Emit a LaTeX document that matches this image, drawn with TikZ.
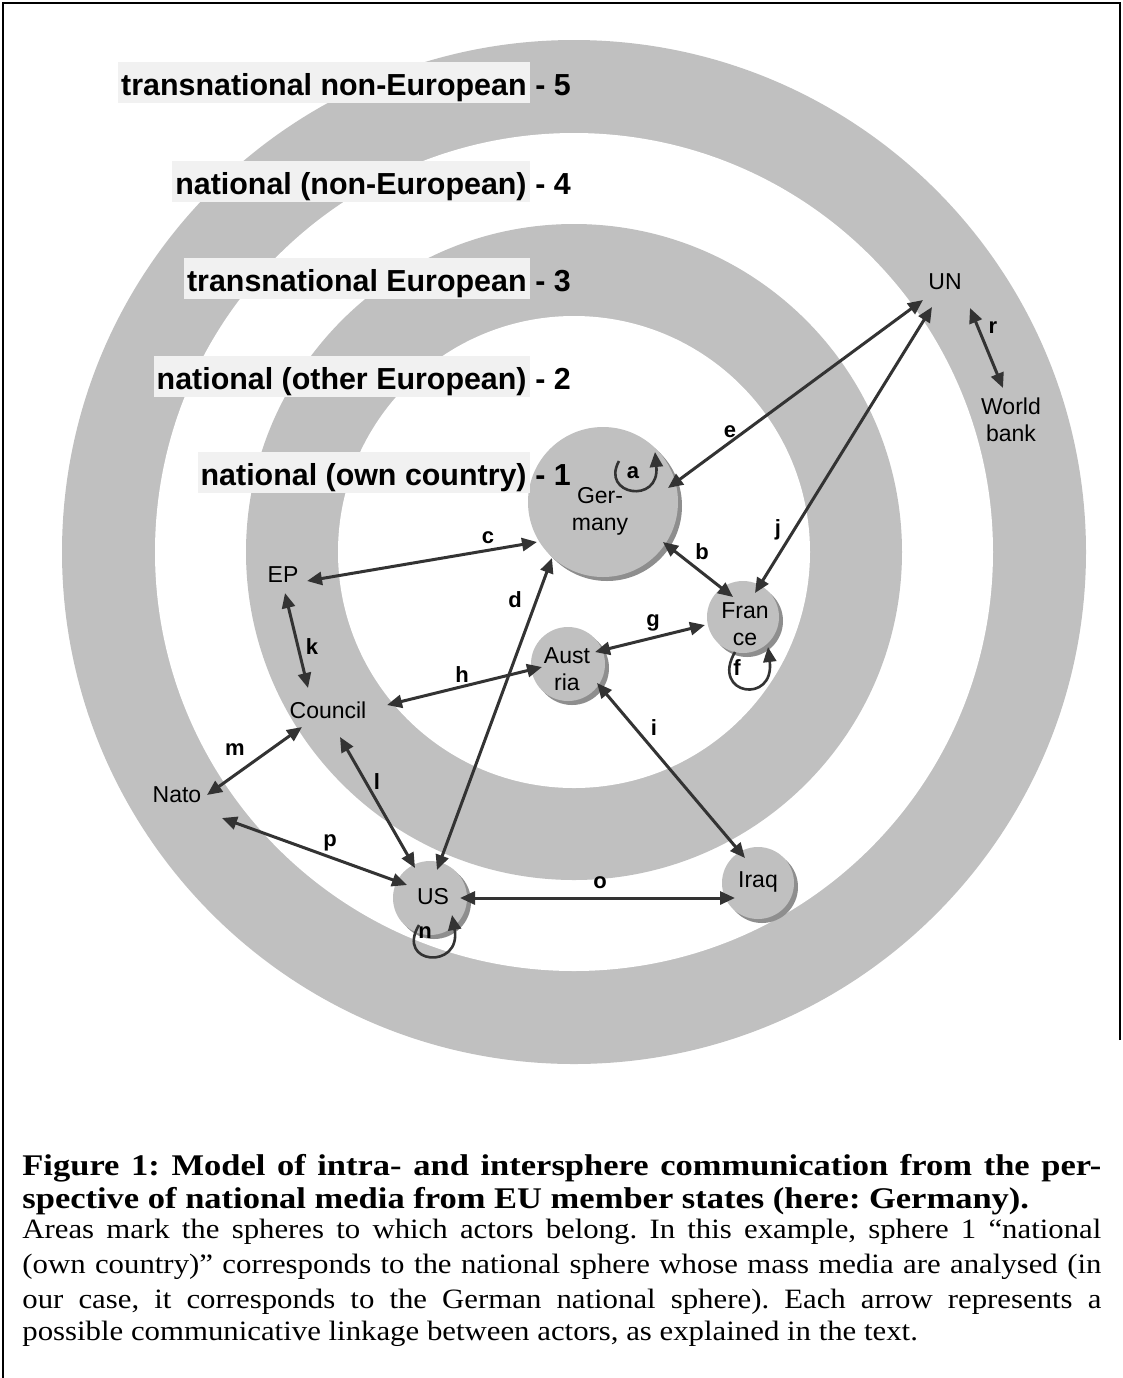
\documentclass[tikz,border=0pt]{standalone}
\usepackage{fontspec}
\setmainfont{Liberation Serif}
\newfontfamily\arialfont{Liberation Sans}
\newfontfamily\capbody{Liberation Serif}[FakeStretch=1.1]
\newfontfamily\caphead{Liberation Serif}[FakeStretch=1.15]
\usetikzlibrary{arrows.meta,shadows}
\definecolor{ringgray}{HTML}{C0C0C0}
\definecolor{shadowgray}{HTML}{8E8E8E}
\definecolor{labelbg}{HTML}{F1F1F1}
\definecolor{arrowc}{HTML}{333333}
\frenchspacing
\begin{document}
\begin{tikzpicture}[x=0.5pt,y=-0.5pt,
  >={Triangle[length=7.5pt,width=6.5pt]},
  actor/.style={circle, fill=ringgray, inner sep=0pt, outer sep=0pt,
    drop shadow={shadow xshift=2pt, shadow yshift=-2pt, fill=shadowgray, opacity=1}},
  acttext/.style={inner sep=0pt, align=center, font=\arialfont\fontsize{11.5}{13.5}\selectfont},
  elabel/.style={inner sep=0pt, font=\arialfont\bfseries\fontsize{11}{13}\selectfont},
  sphlabel/.style={anchor=base east, fill=labelbg, inner xsep=1.5pt, inner ysep=0pt,
    text height=16.6pt, text depth=4pt, font=\arialfont\bfseries\fontsize{15.2}{18}\selectfont},
  sphnum/.style={anchor=base west, inner sep=0pt, font=\arialfont\bfseries\fontsize{15.2}{18}\selectfont},
  biarrow/.style={draw=arrowc, line width=1.5pt, <->},
  selfloop/.style={draw=arrowc, line width=1.3pt, ->},
  caph/.style={anchor=base west, inner sep=0pt, font=\caphead\bfseries\fontsize{15}{18}\selectfont},
  capb/.style={anchor=base west, inner sep=0pt, font=\capbody\fontsize{14}{17}\selectfont},
  frameline/.style={draw=black, line width=1pt}
]
\useasboundingbox (0,0) rectangle (1123,1378);

% frame
\draw[frameline] (1120,1040) -- (1120,3) -- (3,3) -- (3,1378);

% rings
\fill[ringgray] (574,552) circle[radius=256pt];
\fill[white]    (574,552) circle[radius=209.5pt];
\fill[ringgray] (574,552) circle[radius=164pt];
\fill[white]    (574,552) circle[radius=118pt];

% actor circles
\node[actor, minimum size=75pt] (Germany) at (603,502) {};
\node[actor, minimum size=36pt] (France)  at (743,617) {};
\node[actor, minimum size=37pt] (Austria) at (568,664) {};
\node[actor, minimum size=37pt] (US)      at (430,898) {};
\node[actor, minimum size=36pt] (Iraq)    at (758,883) {};

% sphere labels
\node[sphlabel] (s5) at (530,95)  {transnational non-European};
\node[sphnum]   (n5) at (535,95)  {- 5};
\node[sphlabel] (s4) at (530,194) {national (non-European)};
\node[sphnum]   (n4) at (535,194) {- 4};
\node[sphlabel] (s3) at (530,291) {transnational European};
\node[sphnum]   (n3) at (535,291) {- 3};
\node[sphlabel] (s2) at (530,389) {national (other European)};
\node[sphnum]   (n2) at (535,389) {- 2};
\node[sphlabel] (s1) at (530,485) {national (own country)};
\node[sphnum]   (n1) at (535,485) {- 1};

% actor texts
\node[acttext] (tGermany) at (600,511) {Ger-\\many};
\node[acttext] (tFrance)  at (745,624) {Fran\\ce};
\node[acttext] (tAustria) at (567,669) {Aust\\ria};
\node[acttext] (tUS)      at (433,897) {US};
\node[acttext] (tIraq)    at (758,882) {Iraq};
\node[acttext] (EP)       at (283,575) {EP};
\node[acttext] (Council)  at (328,710) {Council};
\node[acttext] (Nato)     at (177,795) {Nato};
\node[acttext] (UN)       at (945,282) {UN};
\node[acttext] (WB)       at (1011,420) {World\\bank};

% connectors
\draw[biarrow] ([shift={(60,40)}]Germany.center) -- ([shift={(-10,-20)}]France.center);
\draw[biarrow] ([shift={(24,6)}]EP.center) -- ([shift={(-66,40)}]Germany.center);
\draw[biarrow] ([shift={(7,-28)}]US.center) -- ([shift={(-51,56)}]Germany.center);
\draw[biarrow] ([shift={(-22,18)}]UN.center) -- ([shift={(65,-14)}]Germany.center);
\draw[biarrow] ([shift={(27,-12)}]Austria.center) -- ([shift={(-38,8)}]France.center);
\draw[biarrow] ([shift={(59,-5)}]Council.center) -- ([shift={(-26,3)}]Austria.center);
\draw[biarrow] ([shift={(29,19)}]Austria.center) -- ([shift={(-13,-25)}]Iraq.center);
\draw[biarrow] ([shift={(-13,25)}]UN.center) -- ([shift={(12,-24)}]France.center);
\draw[biarrow] ([shift={(2,18)}]EP.center) -- ([shift={(-20,-22)}]Council.center);
\draw[biarrow] ([shift={(12,27)}]Council.center) -- ([shift={(-15,-30)}]US.center);
\draw[biarrow] ([shift={(-26,17)}]Council.center) -- ([shift={(30,0)}]Nato.center);
\draw[biarrow] ([shift={(30,0)}]US.center) -- ([shift={(-23,15)}]Iraq.center);
\draw[biarrow] ([shift={(45,23)}]Nato.center) -- ([shift={(-23,-13)}]US.center);
\draw[biarrow] ([shift={(25,26)}]UN.center) -- ([shift={(-8,-32)}]WB.center);

% self loops
\draw[selfloop] ([shift={(16,-41)}]Germany.center) .. controls ([shift={(-3,-7)}]Germany.center) and ([shift={(57,3)}]Germany.center) .. ([shift={(52,-50)}]Germany.center);
\draw[selfloop] ([shift={(-8,35)}]France.center) .. controls ([shift={(-33,78)}]France.center) and ([shift={(32,88)}]France.center) .. ([shift={(25,30)}]France.center);
\draw[selfloop] ([shift={(-11,27)}]US.center) .. controls ([shift={(-35,67)}]US.center) and ([shift={(32,72)}]US.center) .. ([shift={(22,17)}]US.center);

% edge labels
\node[elabel] (la) at (633,473) {a};
\node[elabel] (lb) at (702,552) {b};
\node[elabel] (lc) at (488,538) {c};
\node[elabel] (ld) at (515,600) {d};
\node[elabel] (le) at (730,432) {e};
\node[elabel] (lf) at (737,668) {f};
\node[elabel] (lg) at (653,623) {g};
\node[elabel] (lh) at (462,675) {h};
\node[elabel] (li) at (654,728) {i};
\node[elabel] (lj) at (778,530) {j};
\node[elabel] (lk) at (312,647) {k};
\node[elabel] (ll) at (377,782) {l};
\node[elabel] (lm) at (235,750) {m};
\node[elabel] (ln) at (425,933) {n};
\node[elabel] (lo) at (600,883) {o};
\node[elabel] (lp) at (330,843) {p};
\node[elabel] (lr) at (993,328) {r};

% caption
\node[caph] (cap1) at (22,1175) {\makebox[539.5pt][s]{Figure 1: Model of intra- and intersphere communication from the per-}};
\node[caph] (cap2) at (22,1208) {spective of national media from EU member states (here: Germany).};
\node[capb] (cap3) at (22,1238) {\makebox[539.5pt][s]{Areas mark the spheres to which actors belong. In this example, sphere 1 “national}};
\node[capb] (cap4) at (22,1273) {\makebox[539.5pt][s]{(own country)” corresponds to the national sphere whose mass media are analysed (in}};
\node[capb] (cap5) at (22,1308) {\makebox[539.5pt][s]{our case, it corresponds to the German national sphere). Each arrow represents a}};
\node[capb] (cap6) at (22,1340) {possible communicative linkage between actors, as explained in the text.};
\end{tikzpicture}
\end{document}
